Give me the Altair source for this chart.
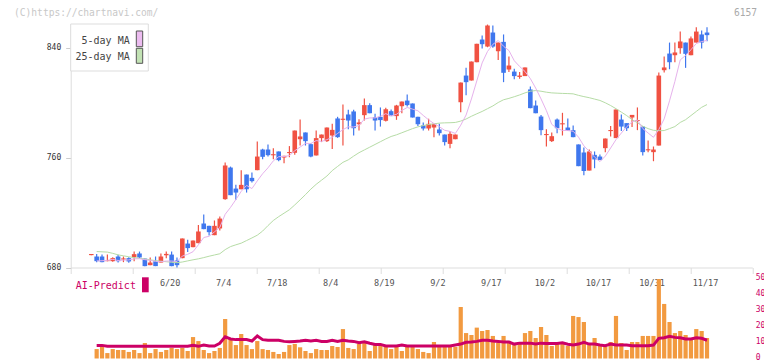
import altair as alt
import pandas as pd

# ---------------- data ----------------
opens = [689.0, 688.0, 688.0, 684.6, 684.6, 688.0, 685.8, 686.8, 687.5, 690.2,
         686.5, 681.7, 684.6, 683.6, 688.9, 689.4, 685.1, 686.8, 697.4, 694.8,
         697.7, 712.0, 710.3, 703.5, 708.4, 729.7, 752.7, 737.4, 736.9, 747.6,
         745.2, 750.8, 765.8, 765.8, 761.6, 764.4, 760.0, 763.2, 763.4, 773.3,
         778.2, 769.7, 761.5, 774.1, 771.9, 776.0, 788.4, 787.4, 791.3, 793.5,
         784.2, 790.8, 798.1, 789.3, 789.6, 786.7, 793.7, 790.1, 797.3, 801.4,
         799.3, 789.6, 783.3, 781.1, 781.8, 780.4, 776.7, 769.9, 773.3, 800.2,
         819.6, 816.0, 829.3, 845.8, 840.7, 850.9, 837.3, 844.1, 824.0, 822.5,
         818.6, 819.2, 809.5, 797.8, 789.8, 776.3, 771.9, 787.6, 784.1, 781.8,
         779.9, 769.5, 763.6, 750.5, 761.9, 760.7, 766.8, 779.2, 774.1, 787.6,
         785.0, 789.1, 786.5, 782.5, 765.2, 763.9, 768.7, 823.5, 835.6, 834.4,
         839.5, 843.6, 834.4, 843.6, 849.5, 850.9]
highs = [689.8, 689.9, 689.4, 689.4, 687.5, 689.2, 688.0, 687.5, 691.6, 691.6,
         686.5, 687.3, 688.0, 690.2, 691.6, 691.6, 687.3, 701.1, 700.1, 699.6,
         711.0, 718.5, 710.3, 714.2, 717.1, 756.4, 753.4, 740.1, 750.8, 747.6,
         749.1, 771.6, 766.3, 769.4, 766.8, 764.4, 761.2, 768.3, 779.6, 787.6,
         778.2, 770.4, 779.6, 776.7, 781.8, 784.5, 789.6, 798.5, 794.7, 794.7,
         787.9, 802.9, 799.5, 791.8, 796.4, 796.1, 794.9, 798.3, 800.7, 805.8,
         799.3, 789.6, 785.5, 788.1, 784.5, 784.5, 776.7, 779.2, 776.7, 814.5,
         825.2, 829.8, 842.7, 848.7, 856.7, 856.0, 843.6, 849.5, 833.5, 824.5,
         822.1, 825.5, 811.6, 801.4, 791.0, 780.6, 778.2, 788.4, 792.5, 788.4,
         783.3, 769.5, 767.3, 765.8, 764.4, 762.2, 773.8, 783.0, 794.9, 791.3,
         785.0, 791.0, 796.4, 782.5, 772.4, 768.0, 821.8, 833.5, 843.6, 843.6,
         851.6, 843.6, 848.0, 854.8, 852.4, 854.8]
lows = [689.0, 683.9, 683.9, 684.6, 684.1, 683.6, 683.9, 683.4, 684.6, 686.8,
        681.0, 681.7, 681.0, 683.6, 686.8, 681.0, 680.0, 686.8, 691.2, 694.8,
        697.7, 707.9, 703.3, 703.5, 706.9, 729.2, 732.6, 729.2, 736.9, 734.5,
        741.8, 750.8, 758.8, 760.7, 758.8, 757.3, 755.9, 760.2, 762.0, 768.7,
        768.7, 760.2, 761.5, 771.2, 771.2, 766.1, 774.3, 768.7, 780.6, 776.0,
        779.6, 786.9, 792.2, 779.6, 782.5, 786.2, 790.1, 787.4, 792.2, 797.1,
        789.1, 783.0, 779.6, 779.6, 774.8, 776.0, 768.7, 766.8, 773.3, 793.0,
        805.3, 816.0, 829.3, 839.3, 840.2, 839.8, 831.0, 814.8, 822.1, 817.0,
        817.2, 819.2, 795.9, 792.2, 776.2, 768.0, 771.2, 777.7, 776.0, 779.6,
        774.8, 753.7, 747.1, 750.5, 752.2, 758.1, 763.9, 775.3, 774.1, 779.2,
        779.2, 782.1, 779.9, 761.5, 763.9, 757.3, 768.7, 821.8, 824.2, 829.3,
        835.4, 825.2, 834.4, 843.6, 839.3, 844.6]
closes = [689.8, 684.6, 683.9, 685.3, 686.8, 684.6, 686.6, 684.4, 689.7, 687.3,
          681.0, 683.6, 681.0, 688.0, 689.9, 681.0, 681.7, 701.1, 694.1, 699.6,
          706.2, 707.9, 705.7, 710.3, 715.6, 754.2, 732.6, 734.5, 740.1, 736.9,
          742.8, 760.7, 760.5, 761.7, 762.4, 758.1, 761.2, 764.0, 779.6, 775.3,
          771.9, 760.7, 774.1, 776.7, 781.8, 780.1, 774.8, 788.2, 786.9, 781.3,
          785.5, 798.1, 792.2, 786.9, 787.2, 795.1, 790.1, 797.8, 800.7, 798.1,
          789.1, 784.2, 781.1, 784.5, 784.5, 777.7, 771.2, 777.2, 776.7, 814.5,
          814.8, 829.8, 842.7, 842.4, 856.0, 840.7, 843.6, 821.6, 826.9, 819.2,
          819.6, 825.5, 795.9, 792.2, 779.9, 777.1, 775.5, 781.3, 784.9, 779.6,
          774.8, 753.7, 750.1, 764.4, 758.6, 758.1, 773.8, 780.0, 794.9, 782.5,
          781.3, 791.0, 787.3, 763.9, 766.0, 765.8, 819.6, 825.5, 829.3, 836.4,
          844.4, 835.4, 846.6, 851.6, 843.6, 849.0]
volumes = [None, 5.9, 7.6, 3.4, 5.9, 5.3, 5.3, 4.1, 5.3, 3.4,
           9.7, 3.4, 5.9, 4.1, 5.3, 6.6, 5.9, 6.6, 4.7, 13.4,
           10.9, 5.3, 3.4, 4.7, 6.6, 24.7, 12.2, 8.4, 15.3, 8.4,
           5.9, 10.9, 5.9, 5.3, 4.1, 2.8, 4.1, 8.4, 9.1, 7.0,
           4.7, 3.4, 5.9, 5.3, 5.3, 7.8, 7.2, 18.4, 6.6, 5.9,
           9.1, 10.3, 4.7, 8.4, 8.4, 7.8, 5.9, 7.2, 4.7, 7.2,
           7.2, 5.9, 4.1, 3.4, 10.3, 7.2, 8.4, 7.2, 7.2, 32.2,
           15.9, 14.7, 19.3, 17.2, 17.8, 14.1, 9.7, 14.1, 11.0, 8.4,
           9.1, 15.9, 17.2, 12.8, 19.7, 14.7, 7.8, 9.1, 9.1, 7.8,
           26.6, 25.9, 22.8, 8.4, 12.8, 7.8, 7.2, 10.3, 26.6, 9.7,
           5.3, 10.3, 10.3, 14.1, 14.1, 14.1, 49.7, 34.1, 22.8, 15.9,
           17.2, 14.7, 12.2, 18.4, 17.2, 12.8]
ma5 = [None, 684.8, 684.9, 685.2, 685.9, 685.1, 685.4, 685.5, 686.3, 686.4,
       685.7, 685.2, 684.5, 684.2, 684.7, 684.7, 684.3, 688.3, 689.6, 691.5,
       696.5, 701.8, 702.7, 705.9, 709.1, 718.7, 723.7, 729.4, 735.4, 739.7,
       737.4, 743.0, 748.2, 752.5, 757.6, 760.6, 760.7, 761.4, 764.9, 767.6,
       770.3, 770.2, 772.3, 771.7, 773.0, 774.7, 777.5, 780.3, 782.3, 782.2,
       783.3, 787.9, 788.8, 788.8, 790.0, 791.9, 790.3, 791.4, 794.2, 796.4,
       795.2, 794.0, 790.6, 787.4, 784.7, 782.4, 779.8, 779.0, 777.5, 783.5,
       790.9, 802.6, 815.7, 828.8, 837.1, 842.3, 845.1, 840.9, 837.8, 830.4,
       826.2, 822.6, 817.4, 810.5, 802.6, 794.1, 784.1, 781.2, 779.7, 779.6,
       779.1, 774.8, 768.5, 764.5, 760.3, 757.0, 761.0, 766.9, 773.0, 777.8,
       782.4, 785.9, 787.3, 781.1, 777.8, 774.7, 780.4, 788.1, 801.2, 815.3,
       831.0, 834.2, 838.4, 842.9, 844.3, 845.2]
ma25 = [None, 691.6, 691.4, 691.2, 690.3, 689.2, 688.5, 687.8, 687.2, 686.7,
        686.2, 685.6, 685.0, 684.6, 684.2, 683.8, 683.5, 684.0, 684.8, 685.6,
        686.3, 687.2, 688.2, 689.1, 690.0, 693.0, 695.2, 696.5, 697.7, 699.6,
        701.5, 703.5, 706.5, 710.5, 714.2, 717.0, 719.5, 722.0, 725.5, 729.2,
        733.0, 737.0, 740.5, 743.5, 746.5, 750.5, 753.5, 756.5, 758.3, 761.0,
        763.5, 765.5, 767.5, 769.5, 771.5, 773.5, 775.3, 776.5, 778.0, 779.5,
        781.0, 782.3, 783.2, 784.0, 784.5, 785.0, 785.2, 785.3, 785.5, 786.5,
        788.0, 790.0, 791.8, 793.5, 795.5, 797.5, 800.0, 802.0, 803.0, 804.2,
        805.5, 807.0, 808.2, 808.7, 808.2, 807.5, 807.0, 806.8, 806.6, 806.5,
        806.3, 805.2, 804.3, 803.5, 802.5, 801.5, 799.8, 797.8, 795.5, 793.0,
        790.5, 787.5, 785.3, 782.8, 781.0, 779.8, 779.5, 779.6, 781.0, 782.5,
        785.5, 787.5, 790.5, 793.5, 796.5, 798.5]
ai_predict = [None, 8.2, 8.2, 7.6, 7.6, 7.6, 7.6, 7.6, 7.6, 7.6,
              7.6, 7.6, 7.6, 7.6, 7.6, 7.6, 7.6, 7.6, 7.6, 8.2,
              7.6, 8.4, 7.8, 7.8, 9.5, 13.6, 12.2, 11.8, 11.8, 11.8,
              10.9, 14.1, 11.8, 11.4, 11.4, 11.4, 10.7, 10.5, 10.7, 10.9,
              11.4, 10.9, 11.4, 10.7, 10.7, 11.4, 10.7, 11.4, 10.9, 10.7,
              9.9, 10.5, 9.5, 8.8, 8.8, 7.8, 7.8, 7.8, 8.4, 7.8,
              7.8, 7.8, 7.8, 7.8, 7.8, 7.8, 7.8, 7.8, 8.4, 9.0,
              10.1, 10.3, 10.7, 11.4, 11.4, 10.9, 10.7, 10.3, 10.3, 9.0,
              9.6, 9.6, 9.6, 9.0, 9.6, 9.4, 9.4, 9.4, 9.8, 8.9,
              8.4, 9.0, 10.1, 9.0, 9.0, 8.4, 8.0, 9.0, 8.4, 8.4,
              8.4, 8.0, 8.0, 8.0, 8.0, 8.4, 12.6, 13.0, 13.9, 13.2,
              13.0, 12.2, 12.2, 13.0, 12.6, 11.4]
date_labels = ["6/20", "7/4", "7/18", "8/4", "8/19", "9/2", "9/17",
               "10/2", "10/17", "10/31", "11/17"]
date_label_idx = [16, 26, 36, 46, 56, 66, 76, 86, 96, 106, 116]
price_ticks = [680, 760, 840]
volume_ticks = [0, 10, 20, 30, 40, 50]

# ---------------- styles ----------------
RED = "#f05142"
BLUE = "#3f77ee"
PINK = "#e6b2ec"
GREEN = "#b6dca6"
ORANGE = "#f29a40"
CRIMSON = "#cc0066"
MONO = "DejaVu Sans Mono"

W, H = 681.6, 334.5
X0, X1 = -2.85, 124.46
PRICE_BOTTOM = 243.5
PAD_L = 62.7
PAD_R = 756 - PAD_L - W   # keep page width (with 8px margins) within 772

n = len(closes)
df = pd.DataFrame({
    "i": list(range(1, n + 1)),
    "open": opens, "high": highs, "low": lows, "close": closes,
    "vol": volumes, "ma5": ma5, "ma25": ma25, "ai": ai_predict,
})
df["col"] = [RED if c >= o else BLUE for o, c in zip(opens, closes)]
labels_df = pd.DataFrame({"idx": date_label_idx, "label": date_labels})
one = pd.DataFrame({"k": [0]})

xscale = alt.Scale(domain=[X0, X1], nice=False, zero=False, padding=0)
xticks = [X0 + k * (X1 - X0) / 11 for k in range(12)]
xaxis = alt.Axis(values=xticks, labels=False, title=None, grid=False,
                 domainColor="#dddddd", tickColor="#dddddd", tickSize=6,
                 offset=-(H - PRICE_BOTTOM))
pscale = alt.Scale(domain=[680, 857.1], range=[PRICE_BOTTOM, 0], nice=False, zero=False)
paxis = alt.Axis(values=price_ticks, title=None, grid=False, orient="left",
                 domainColor="#dddddd", tickColor="#cccccc", tickSize=5,
                 labelFont=MONO, labelFontSize=8, labelColor="#333333",
                 labelPadding=5, labelFlush=False)
vscale = alt.Scale(domain=[0, 50], range=[H, H - 80], nice=False, zero=False)
vaxis = alt.Axis(values=volume_ticks, title=None, grid=False, orient="right",
                 domain=False, ticks=False, labelFont=MONO, labelFontSize=8,
                 labelColor=CRIMSON, labelPadding=3, labelFlush=False,
                 labelOffset=-1.2)

X = alt.X("i:Q", scale=xscale, axis=xaxis)
base = alt.Chart(df)

wicks = base.mark_rule(strokeWidth=1.2).encode(
    x=X, y=alt.Y("low:Q", scale=pscale, axis=paxis), y2="high:Q",
    color=alt.Color("col:N", scale=None))
bodies = base.mark_bar(size=4.6).encode(
    x=X, y=alt.Y("open:Q", scale=pscale, axis=paxis), y2="close:Q",
    color=alt.Color("col:N", scale=None))
ma25_line = base.transform_filter("isValid(datum.ma25)").mark_line(
    color=GREEN, strokeWidth=1).encode(
    x=X, y=alt.Y("ma25:Q", scale=pscale, axis=paxis))
ma5_line = base.transform_filter("isValid(datum.ma5)").mark_line(
    color=PINK, strokeWidth=1).encode(
    x=X, y=alt.Y("ma5:Q", scale=pscale, axis=paxis))

date_text = alt.Chart(labels_df).mark_text(
    font=MONO, fontSize=8.5, color="#555555", baseline="middle", align="center", dx=-1.5
).encode(x=alt.X("idx:Q", scale=xscale, axis=xaxis), y=alt.value(258.5), text="label:N")


def txt(text, x, y, align, color, size, baseline="middle"):
    return alt.Chart(one).mark_text(text=text, align=align, baseline=baseline,
                                    font=MONO, fontSize=size, color=color).encode(
        x=alt.value(x), y=alt.value(y))


def box(x1, x2, y1, y2, fill, stroke=None):
    kw = {"fill": fill}
    if stroke:
        kw.update(stroke=stroke, strokeWidth=1)
    return alt.Chart(one).mark_rect(**kw).encode(
        x=alt.value(x1), x2=alt.value(x2), y=alt.value(y1), y2=alt.value(y2))


legend = [
    box(0, 77.6, 0, 47, "white", "#dddddd"),
    txt("5-day MA", 59, 16.7, "right", "#444444", 10),
    txt("25-day MA", 59, 33.3, "right", "#444444", 10),
    box(65.6, 72, 7, 22.7, "#ecbcf0", "#555555"),
    box(65.6, 72, 24.3, 39.3, "#c2e2b4", "#555555"),
    txt("(C)https://chartnavi.com/", -56.7, -8.0, "left", "#c8c8c8", 9.6, "alphabetic"),
    txt("6157", 686.3, -8.0, "right", "#aaaaaa", 9.6, "alphabetic"),
    txt("AI-Predict", 5, 262, "left", CRIMSON, 10),
    box(71.3, 78, 253.3, 268.3, CRIMSON),
]

price = alt.layer(wicks, bodies, ma25_line, ma5_line, date_text, *legend)

vol_bars = base.transform_filter("isValid(datum.vol)").mark_bar(
    size=4.2, color=ORANGE).encode(
    x=X, y=alt.Y("vol:Q", scale=vscale, axis=vaxis), y2=alt.datum(0))
ai_line = base.transform_filter("isValid(datum.ai)").mark_line(
    color=CRIMSON, strokeWidth=3).encode(
    x=X, y=alt.Y("ai:Q", scale=vscale, axis=vaxis))
volume = alt.layer(vol_bars, ai_line)

chart = alt.layer(price, volume).resolve_scale(y="independent").properties(
    width=W, height=H,
    padding={"left": PAD_L, "top": 16, "right": PAD_R, "bottom": 2},
    autosize=alt.AutoSizeParams(type="none"),
).configure_view(stroke=None)

chart.save("out.html", embed_options={"renderer": "svg", "actions": False})
